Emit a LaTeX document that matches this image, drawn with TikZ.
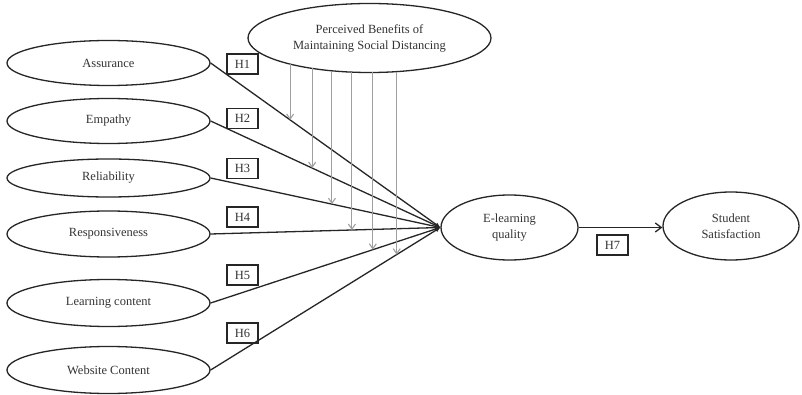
\documentclass[tikz,border=0pt]{standalone}
\usepackage{fontspec}
\setmainfont{Liberation Serif}
\usetikzlibrary{arrows.meta,shapes.geometric}
\begin{document}
\begin{tikzpicture}[x=1pt,y=-1pt,
  lat/.style={draw=black!85, ellipse, line width=1.3pt, inner sep=0pt, align=center,
    font=\fontsize{12.5}{16}\selectfont, text=black!80},
  hbox/.style={draw=black!85, line width=1.3pt, minimum width=31pt, minimum height=20pt,
    inner sep=0pt, font=\fontsize{12.5}{14}\selectfont, text=black!80},
  pline/.style={line width=1.3pt, draw=black!85},
  tipin/.style={-{Latex[length=5pt,width=4.5pt]}},
  modarrow/.style={draw=gray!75, line width=1.1pt, -{Straight Barb[length=5pt,width=7pt]}}
]
\useasboundingbox (0,0) rectangle (802,395);
\fill[white] (0,0) rectangle (802,395);

% latent variables
\node[lat, minimum width=203pt, minimum height=45pt] (as) at (108.5,63) {Assurance};
\node[lat, minimum width=203pt, minimum height=45pt] (em) at (108.5,121) {Empathy};
\node[lat, minimum width=203pt, minimum height=38pt] (re) at (108.5,178) {Reliability};
\node[lat, minimum width=203pt, minimum height=46pt] (rs) at (108.5,234) {Responsiveness};
\node[lat, minimum width=203pt, minimum height=47pt] (lc) at (108.5,303) {Learning content};
\node[lat, minimum width=203pt, minimum height=47pt] (wc) at (108.5,370) {Website Content};
\node[lat, minimum width=243pt, minimum height=69pt] (pb) at (369.5,38) {Perceived Benefits of\\Maintaining Social Distancing};
\node[lat, minimum width=137pt, minimum height=65pt] (el) at (509.5,227.5) {E-learning\\quality};
\node[lat, minimum width=136pt, minimum height=68pt] (ss) at (731,226) {Student\\Satisfaction};

% hypothesis boxes
\node[hbox] (h1) at (242.5,64) {H1};
\node[hbox] (h2) at (242.5,118.5) {H2};
\node[hbox] (h3) at (242.5,168.5) {H3};
\node[hbox] (h4) at (242.5,217) {H4};
\node[hbox] (h5) at (242.5,275) {H5};
\node[hbox] (h6) at (242.5,333) {H6};
\node[hbox] (h7) at (612.5,245) {H7};

% paths to e-learning quality
\draw[pline,tipin] (as.east) -- (el.west) coordinate[pos=0.346] (m1);
\draw[pline,tipin] (em.east) -- (el.west) coordinate[pos=0.442] (m2);
\draw[pline,tipin] (re.east) -- (el.west) coordinate[pos=0.528] (m3);
\draw[pline,tipin] (rs.east) -- (el.west) coordinate[pos=0.615] (m4);
\draw[pline,tipin] (lc.east) -- (el.west) coordinate[pos=0.706] (m5);
\draw[pline,tipin] (wc.east) -- (el.west) coordinate[pos=0.810] (m6);

% moderating arrows start points (on lower border of the ellipse)
\coordinate (s1) at (290,64);
\coordinate (s2) at (312,68.4);
\coordinate (s3) at (332,70.8);
\coordinate (s4) at (352,72.1);
\coordinate (s5) at (373,72.5);
\coordinate (s6) at (397,71.6);
\draw[modarrow] (s1 -| m1) -- (m1);
\draw[modarrow] (s2 -| m2) -- (m2);
\draw[modarrow] (s3 -| m3) -- (m3);
\draw[modarrow] (s4 -| m4) -- (m4);
\draw[modarrow] (s5 -| m5) -- (m5);
\draw[modarrow] (s6 -| m6) -- (m6);

% H7
\draw[pline,-{Straight Barb[length=6pt,width=9pt]}] (el.east) -- (el.east -| ss.west);
\end{tikzpicture}
\end{document}
